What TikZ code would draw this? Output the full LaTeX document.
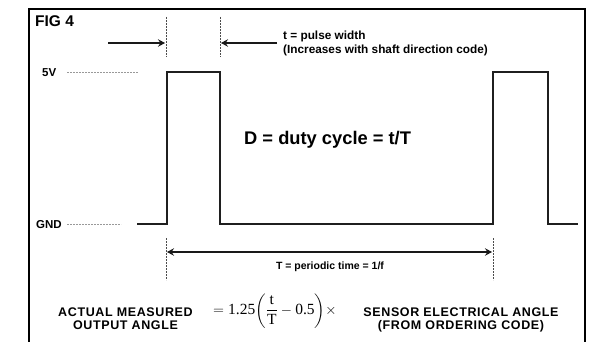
\documentclass[tikz,border=0pt]{standalone}
\usepackage{amsmath}
\usepackage{fontspec}
\setmainfont{Liberation Serif}
\newfontfamily\arial{Liberation Sans}
\usetikzlibrary{arrows.meta}
\begin{document}
\begin{tikzpicture}[x=1pt,y=-1pt,
  frame/.style={line width=1.3pt,black},
  wave/.style={line width=2.4pt,black!88,line join=miter},
  guide/.style={line width=0.9pt,gray!80,dash pattern=on 2pt off 1pt},
  vguide/.style={line width=0.9pt,gray!60!black,dash pattern=on 2pt off 1pt},
  dimarrow/.style={line width=1.6pt,black!90,-{Stealth[length=7pt,width=7.5pt,inset=2.5pt]}},
  dimboth/.style={line width=1.6pt,black!90,{Stealth[length=7pt,width=7.5pt,inset=2.5pt]}-{Stealth[length=7pt,width=7.5pt,inset=2.5pt]}},
  lbl/.style={inner sep=0pt,font=\arial\bfseries},
  caps/.style={inner sep=0pt,align=center,font=\arial\bfseries\fontsize{12.5}{13.5}\selectfont\addfontfeature{LetterSpace=5}}
]
\useasboundingbox (0,0) rectangle (602,342);
\fill[white] (0,0) rectangle (602,342);
% frame
\draw[frame] (29,342) -- (29,9) -- (585,9) -- (585,342);

% title
\node[lbl,anchor=base west,font=\arial\bfseries\fontsize{15.5}{17}\selectfont] (fig) at (35,27) {FIG 4};

% pulse width markers
\coordinate (t1top) at (166,17); \coordinate (t1bot) at (166,57);
\coordinate (t2top) at (220,17); \coordinate (t2bot) at (220,57);
\draw[vguide] (t1top) -- (t1bot);
\draw[vguide] (t2top) -- (t2bot);
\coordinate (la) at (108,43); \coordinate (lb) at (165,43);
\coordinate (ra) at (277,43); \coordinate (rb) at (221,43);
\draw[dimarrow] (la) -- (lb);
\draw[dimarrow] (ra) -- (rb);
\node[lbl,anchor=base west,font=\arial\bfseries\fontsize{11.8}{14.5}\selectfont] (tw) at (283,39.5) {t = pulse width};
\node[lbl,anchor=base west,font=\arial\bfseries\fontsize{11.8}{14.5}\selectfont] (tinc) at (283,54) {(Increases with shaft direction code)};

% levels
\node[lbl,anchor=base west,font=\arial\bfseries\fontsize{11.5}{13}\selectfont] (v5) at (42,76.5) {5V};
\draw[guide] (67,72) -- (138,72);
\node[lbl,anchor=base west,font=\arial\bfseries\fontsize{11.5}{13}\selectfont] (gnd) at (36,228) {GND};
\draw[guide] (67,224) -- (121,224);

% waveform
\draw[wave] (137,224) -- (167,224) -- (167,72) -- (220,72) -- (220,224)
  -- (493,224) -- (493,72) -- (548,72) -- (548,224) -- (578,224);

% duty cycle
\node[lbl,anchor=base west,font=\arial\bfseries\fontsize{18.3}{20}\selectfont] (duty) at (244,145) {D = duty cycle = t/T};

% period markers
\coordinate (p1top) at (166,238); \coordinate (p1bot) at (166,280);
\coordinate (p2top) at (493,238); \coordinate (p2bot) at (493,280);
\draw[vguide] (p1top) -- (p1bot);
\draw[vguide] (p2top) -- (p2bot);
\coordinate (pa) at (167,252); \coordinate (pb) at (492,252);
\draw[dimboth] (pa) -- (pb);
\node[lbl,anchor=base,font=\arial\bfseries\fontsize{10.5}{12}\selectfont] (per) at (330,269.5) {T = periodic time = 1/f};

% equation
\node[caps,anchor=base] (act1) at (125.5,316) {ACTUAL MEASURED};
\node[caps,anchor=base] (act2) at (125.5,329.5) {OUTPUT ANGLE};
\node[inner sep=0pt,anchor=west,font=\fontsize{15.5}{18}\selectfont] (eq) at (213,311) {$=\text{1.25}\!\left(\dfrac{\text{t}}{\text{T}}-\text{0.5}\vphantom{\dfrac{\text{t}}{\text{T}_j}}\right)\!\times$};
\node[caps,anchor=base] (sen1) at (461,316) {SENSOR ELECTRICAL ANGLE};
\node[caps,anchor=base] (sen2) at (461,329.5) {(FROM ORDERING CODE)};
\end{tikzpicture}
\end{document}
